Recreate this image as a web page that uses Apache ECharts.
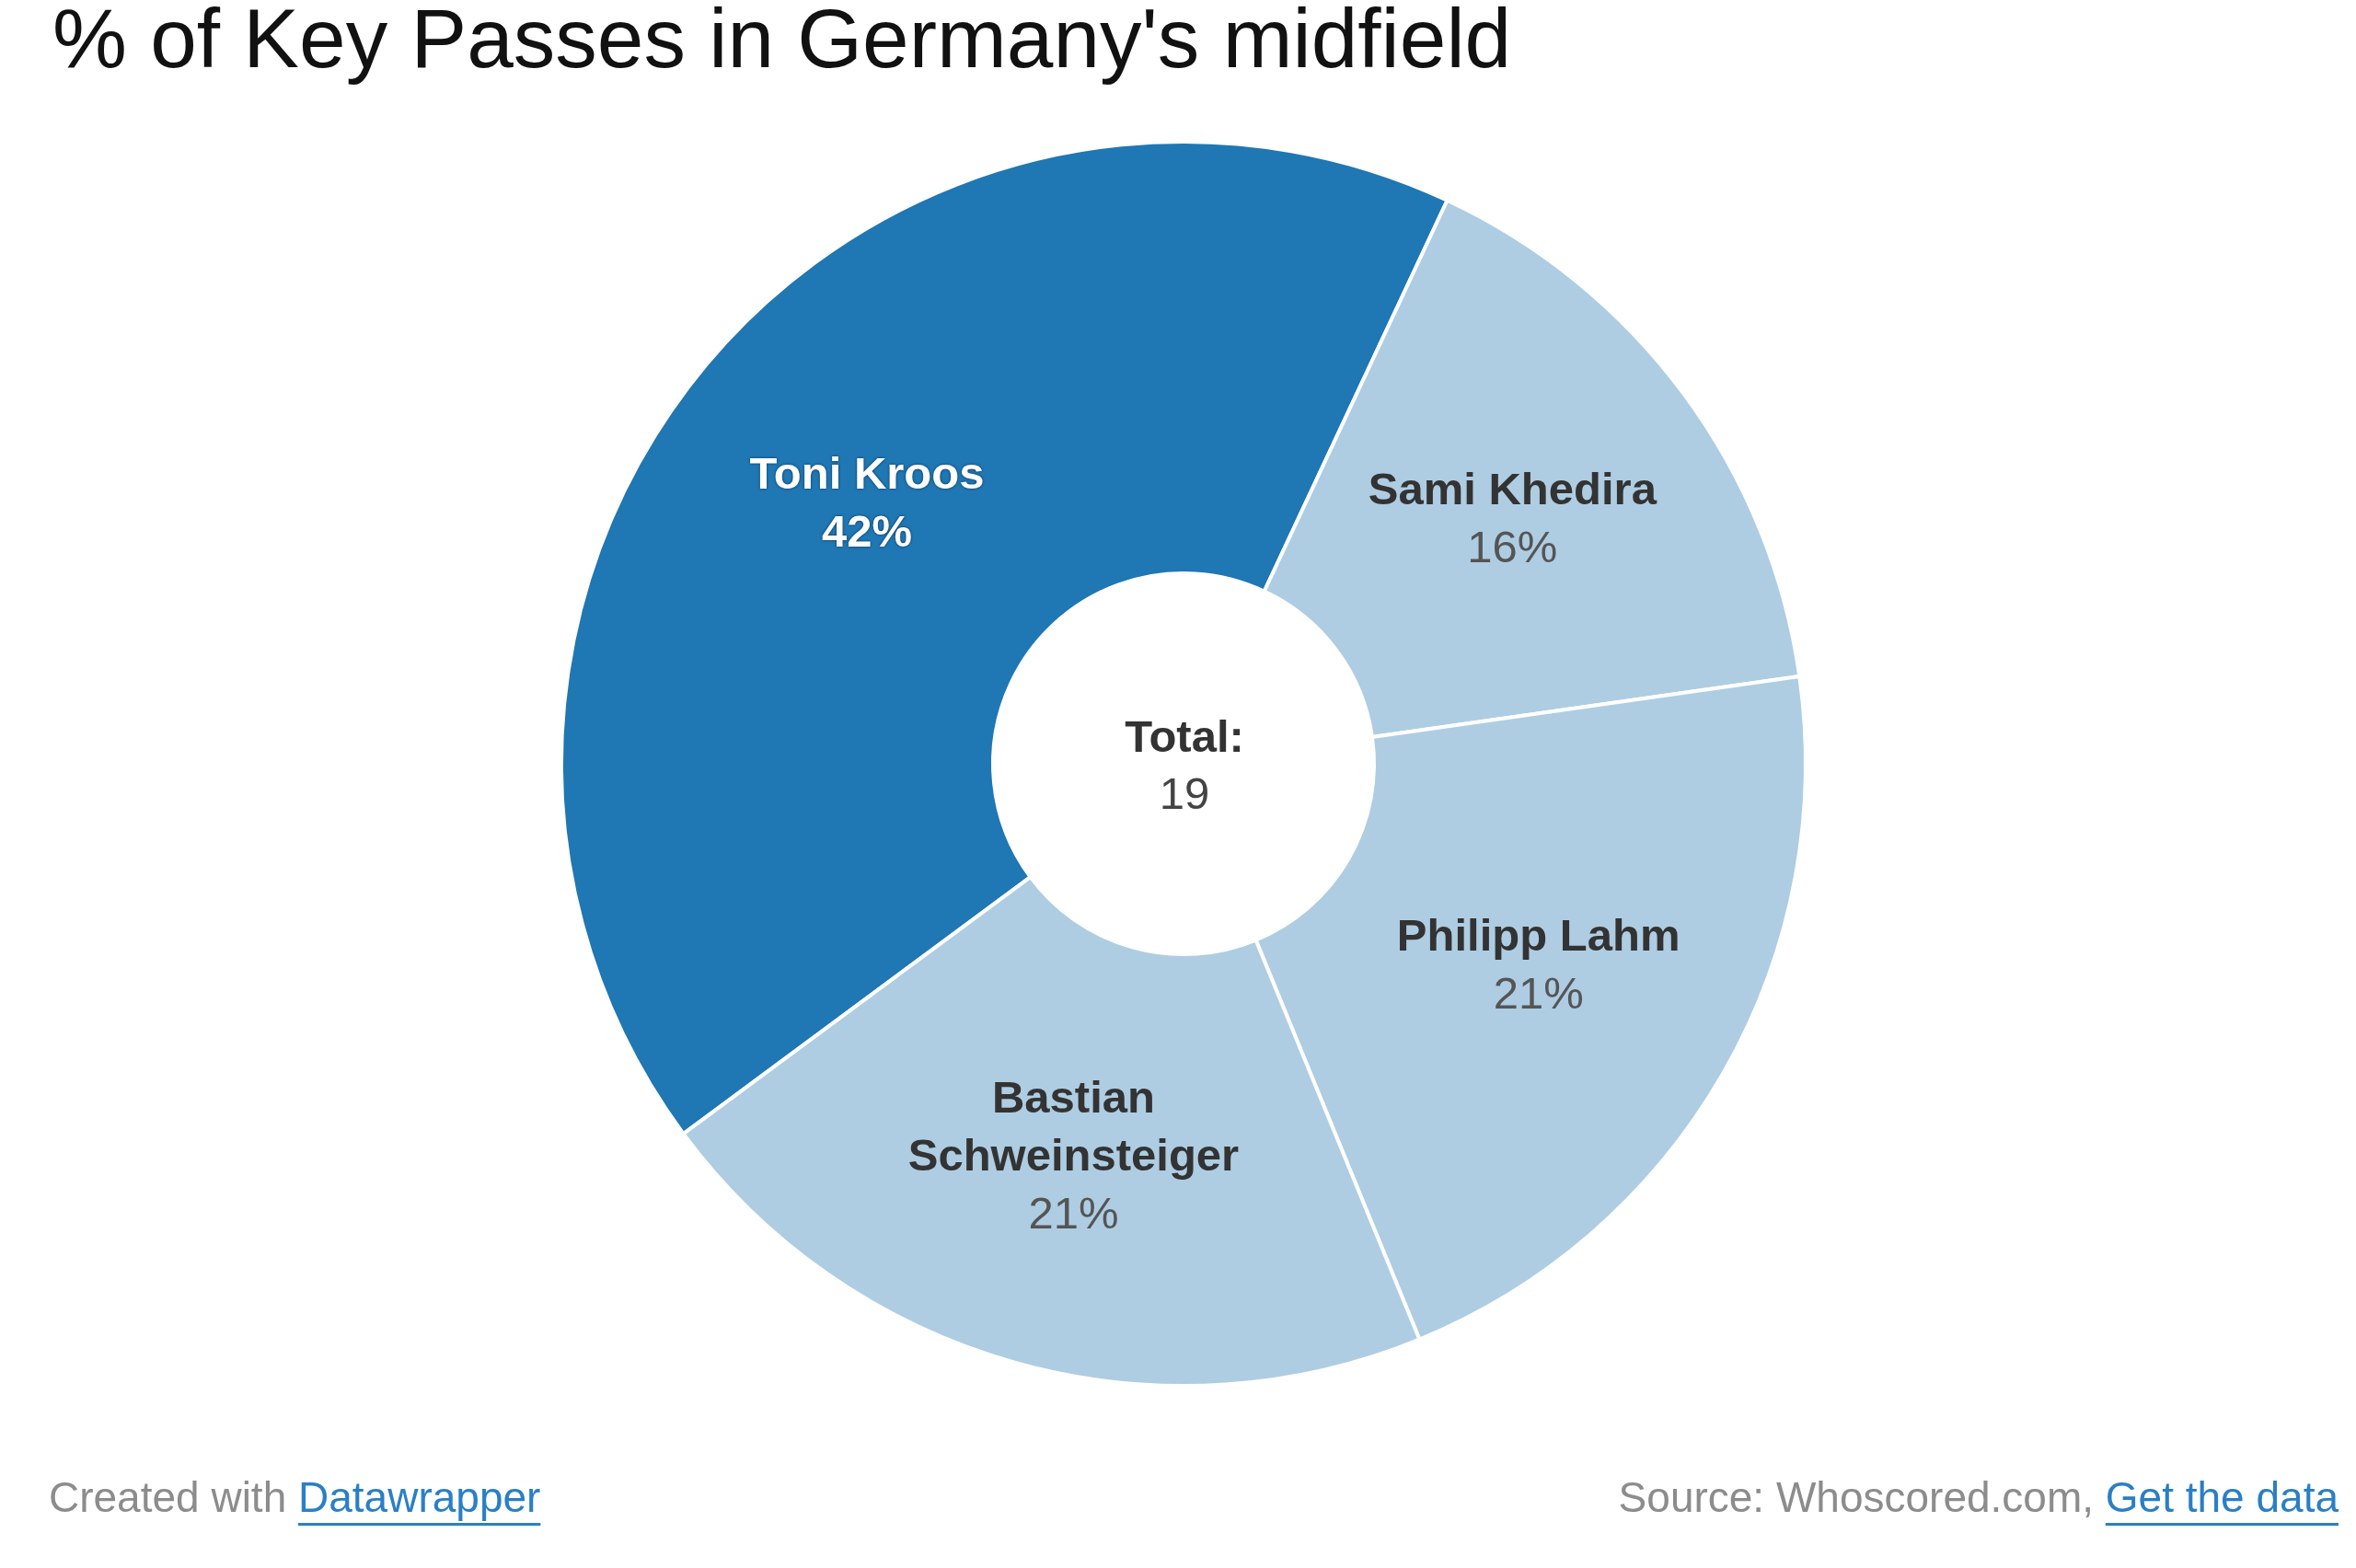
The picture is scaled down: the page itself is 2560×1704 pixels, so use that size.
<!DOCTYPE html>
<html>
<head>
<meta charset="utf-8">
<script src="https://cdn.jsdelivr.net/npm/echarts@6/dist/echarts.min.js"></script>
<style>
html,body{margin:0;padding:0;background:#fff;}
#chart{width:2560px;height:1704px;}
</style>
</head>
<body>
<div id="chart"></div>
<script>
// data
var players = ['Toni Kroos', 'Sami Khedira', 'Philipp Lahm', 'Bastian\nSchweinsteiger'];
var keyPasses = [8, 3, 4, 4];
var sliceColors = ['#1f77b4', '#aecde3', '#aecde3', '#aecde3'];
var titleText = "% of Key Passes in Germany's midfield";
var creditText = 'Created with ';
var creditLink = 'Datawrapper';
var sourceText = 'Source: Whoscored.com, ';
var sourceLink = 'Get the data';

var FONT = 'Liberation Sans, Arial, sans-serif';
var FOOT_FONT = '46px ' + FONT;
var total = 0;
for (var i = 0; i < keyPasses.length; i++) total += keyPasses[i];

// measure footer text so the link part and its underline line up
var ctx = document.createElement('canvas').getContext('2d');
ctx.font = FOOT_FONT;
function w(t){ return ctx.measureText(t).width; }

var footY = 1630, lineY = 1655;
var leftX = 53;
var rightX = 2541;
var srcW = w(sourceText), getW = w(sourceLink);
var credW = w(creditText), dwW = w(creditLink);

var chart = echarts.init(document.getElementById('chart'));
var option = {
	backgroundColor: '#fff',
	animation: false,
	title: {
		text: titleText,
		left: 52,
		top: -3,
		textStyle: {
			fontFamily: FONT,
			fontSize: 91,
			fontWeight: 'normal',
			color: '#111'
		}
	},
	series: [{
		type: 'pie',
		center: [1286, 830],
		radius: [207, 676],
		startAngle: 216.5,
		clockwise: true,
		avoidLabelOverlap: false,
		emphasis: {disabled: true},
		itemStyle: {
			borderColor: '#fff',
			borderWidth: 4
		},
		labelLine: {show: false},
		label: {
			show: true,
			position: 'inside',
			fontFamily: FONT,
			formatter: function(p){
				var pct = Math.round(p.value / total * 100) + '%';
				var light = p.dataIndex === 0;
				var lines = p.name.split('\n');
				var out = [];
				for (var k = 0; k < lines.length; k++) {
					out.push('{' + (light ? 'nameW' : 'name') + '|' + lines[k] + '}');
				}
				out.push('{' + (light ? 'pctW' : 'pct') + '|' + pct + '}');
				return out.join('\n');
			},
			rich: {
				name: {fontFamily: FONT, fontSize: 49, lineHeight: 63, fontWeight: 'bold', color: '#333'},
				pct: {fontFamily: FONT, fontSize: 49, lineHeight: 63, color: '#555'},
				nameW: {fontFamily: FONT, fontSize: 49, lineHeight: 63, fontWeight: 'bold', color: '#fff',
					textShadowColor: 'rgba(0,0,0,0.6)', textShadowBlur: 3},
				pctW: {fontFamily: FONT, fontSize: 49, lineHeight: 63, fontWeight: 'bold', color: '#fff',
					textShadowColor: 'rgba(0,0,0,0.6)', textShadowBlur: 3}
			}
		},
		data: players.map(function(n, idx){
			return {name: n, value: keyPasses[idx], itemStyle: {color: sliceColors[idx]}};
		})
	}],
	graphic: [
		{
			type: 'text', x: 1287, y: 834,
			style: {
				text: '{b|Total:}\n{n|' + total + '}',
				textAlign: 'center', textVerticalAlign: 'middle',
				rich: {
					b: {fontFamily: FONT, fontSize: 49, lineHeight: 62, fontWeight: 'bold', fill: '#333'},
					n: {fontFamily: FONT, fontSize: 49, lineHeight: 62, fill: '#444'}
				}
			}
		},
		{type: 'text', x: leftX, y: footY, style: {text: creditText, font: FOOT_FONT, fill: '#8c8c8c', textAlign: 'left', textVerticalAlign: 'middle'}},
		{type: 'text', x: leftX + credW, y: footY, style: {text: creditLink, font: FOOT_FONT, fill: '#2a7fc6', textAlign: 'left', textVerticalAlign: 'middle'}},
		{type: 'rect', shape: {x: leftX + credW, y: lineY, width: dwW, height: 3}, style: {fill: '#2a7fc6'}},
		{type: 'text', x: rightX - getW - srcW, y: footY, style: {text: sourceText, font: FOOT_FONT, fill: '#8c8c8c', textAlign: 'left', textVerticalAlign: 'middle'}},
		{type: 'text', x: rightX - getW, y: footY, style: {text: sourceLink, font: FOOT_FONT, fill: '#2a7fc6', textAlign: 'left', textVerticalAlign: 'middle'}},
		{type: 'rect', shape: {x: rightX - getW, y: lineY, width: getW, height: 3}, style: {fill: '#2a7fc6'}}
	]
};
chart.setOption(option);
</script>
</body>
</html>
